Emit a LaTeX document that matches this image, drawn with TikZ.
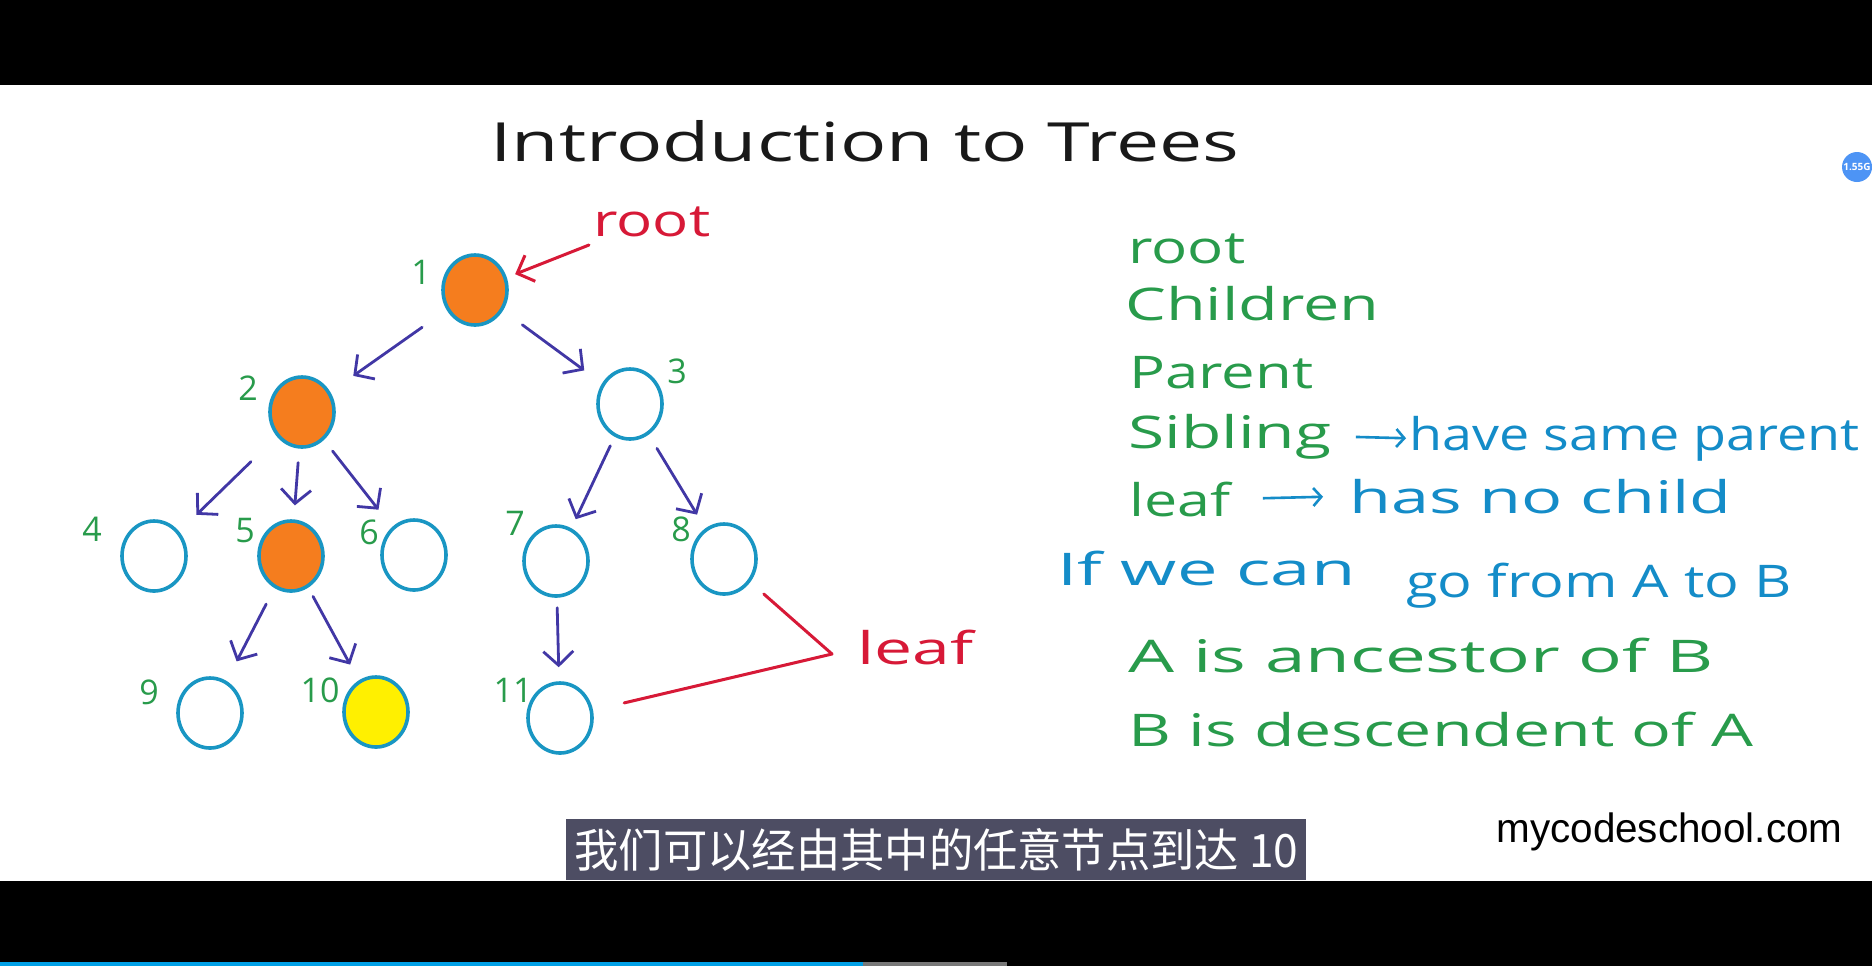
\documentclass[tikz,border=0pt]{standalone}
\usepackage{fontspec}
\usepackage{graphicx}
\setmainfont{Open Sans}
\newfontfamily\cjk{Noto Sans CJK SC}
\newfontfamily\libsans{Liberation Sans}
\usetikzlibrary{arrows.meta,shapes.geometric}
\definecolor{ring}{RGB}{25,150,195}
\definecolor{orangefill}{RGB}{245,125,30}
\definecolor{yellowfill}{RGB}{255,240,0}
\definecolor{arrowblue}{RGB}{65,55,165}
\definecolor{numgreen}{RGB}{40,155,75}
\definecolor{textblue}{RGB}{20,140,200}
\definecolor{redink}{RGB}{215,25,55}
\definecolor{subbg}{RGB}{62,62,86}
\definecolor{badgeblue}{RGB}{77,148,245}
\definecolor{barblue}{RGB}{0,160,230}
\definecolor{bargray}{RGB}{120,120,120}
\newcommand\fitto[2]{\resizebox{#1}{\height}{#2}}
\begin{document}
\begin{tikzpicture}[x=0.5pt,y=-0.5pt,
  tnode/.style={ellipse,draw=ring,line width=1.8pt,minimum width=32pt,minimum height=35pt,inner sep=0pt,fill=white},
  num/.style={text=numgreen,font=\fontsize{17}{20}\selectfont,inner sep=0pt},
  treearrow/.style={draw=arrowblue,line width=1.4pt,line cap=round,-{Straight Barb[length=7pt,width=15pt,line width=1.4pt]}},
  greentext/.style={anchor=base west,inner sep=0pt,text=numgreen,font=\fontsize{22.5}{27}\selectfont},
  bluetext/.style={anchor=base west,inner sep=0pt,text=textblue,font=\fontsize{22.5}{27}\selectfont},
  redtext/.style={anchor=base west,inner sep=0pt,text=redink,font=\fontsize{22.5}{27}\selectfont},
  textarrow/.style={draw=textblue,line width=1.3pt,-{Straight Barb[length=4pt,width=9pt,line width=1.3pt]}},
  redarrow/.style={draw=redink,line width=1.5pt,line cap=round,-{Straight Barb[length=7pt,width=14pt,line width=1.5pt]}},
  redline/.style={draw=redink,line width=1.5pt,line cap=round,line join=round}
]
\useasboundingbox (0,0) rectangle (1872,966);
\fill[white] (0,0) rectangle (1872,966);
\fill[black] (0,0) rectangle (1872,85);
\fill[black] (0,881) rectangle (1872,966);
\fill[barblue] (0,962) rectangle (863,966);
\fill[bargray] (863,962) rectangle (1007,966);

% title
\node[anchor=base west,inner sep=0pt,text=black!90,font=\fontsize{27}{32}\selectfont] (title) at (490,161) {\fitto{374.5pt}{Introduction to Trees}};

% badge
\node[circle,fill=badgeblue,minimum size=15pt,inner sep=0pt,text=white,font=\bfseries\fontsize{5}{6}\selectfont] (badge) at (1857,167) {1.55G};

% tree nodes
\node[tnode,fill=orangefill] (n1) at (475,290) {};
\node[tnode,fill=orangefill] (n2) at (302,412) {};
\node[tnode] (n3) at (630,404) {};
\node[tnode] (n4) at (154,556) {};
\node[tnode,fill=orangefill] (n5) at (291,556) {};
\node[tnode] (n6) at (414,555) {};
\node[tnode] (n7) at (556,561) {};
\node[tnode] (n8) at (724,559) {};
\node[tnode] (n9) at (210,713) {};
\node[tnode,fill=yellowfill] (n10) at (376,712) {};
\node[tnode] (n11) at (560,718) {};

% numbers
\node[num] (l1) at (421,272) {1};
\node[num] (l2) at (248,388) {2};
\node[num] (l3) at (677,371) {3};
\node[num] (l4) at (92,529) {4};
\node[num] (l5) at (245,531) {5};
\node[num] (l6) at (369,532) {6};
\node[num] (l7) at (515,523) {7};
\node[num] (l8) at (681,529) {8};
\node[num] (l9) at (149,692) {9};
\node[num] (l10) at (320,690) {10};
\node[num] (l11) at (513,690) {11};

% tree arrows
\draw[treearrow,shorten <=15pt,shorten >=14pt] (n1) -- (n2);
\draw[treearrow,shorten <=12pt,shorten >=11pt] (n1) -- (n3);
\draw[treearrow,shorten <=18pt,shorten >=12pt] (n2) -- (n4);
\draw[treearrow,shorten <=7pt,shorten >=7pt] (n2) -- (n5);
\draw[treearrow,shorten <=7pt,shorten >=11pt] (n2) -- (n6);
\draw[treearrow,shorten <=5pt,shorten >=5pt] (n3) -- (n7);
\draw[treearrow,shorten <=8pt,shorten >=8pt] (n3) -- (n8);
\draw[treearrow,shorten <=9pt,shorten >=11pt] (n5) -- (n9);
\draw[treearrow,shorten <=5pt,shorten >=9pt] (n5) -- (n10);
\draw[treearrow,shorten <=5pt,shorten >=7pt] (n7) -- (n11);

% root label
\node[redtext] (rootlbl) at (593,236) {\fitto{58.5pt}{root}};
\coordinate (rootfrom) at (589,245);
\draw[redarrow,shorten >=4.5pt] (rootfrom) -- (n1);

% leaf bracket
\node[redtext] (leaflbl) at (857,664) {\fitto{58pt}{leaf}};
\coordinate (leaftip) at (832,654);
\draw[redline,shorten <=9pt,shorten >=16pt] (n8) -- (leaftip) -- (n11);

% right side terms
\node[greentext] (troot) at (1128,263) {\fitto{58.5pt}{root}};
\node[greentext] (tchildren) at (1125,320) {\fitto{127pt}{Children}};
\node[greentext] (tparent) at (1129,388) {\fitto{92pt}{Parent}};
\node[greentext] (tsibling) at (1128,448) {\fitto{101.5pt}{Sibling}};
\node[bluetext] (thave) at (1409,450) {\fitto{225pt}{have same parent}};
\node[greentext] (tleaf) at (1129,516) {\fitto{50.5pt}{leaf}};
\node[bluetext] (thas) at (1349,513) {\fitto{191pt}{has no child}};
\draw[textarrow,shorten <=12pt,shorten >=1.5pt] (tsibling.east) -- (thave.west);
\draw[textarrow,shorten <=16pt,shorten >=13pt] (tleaf.east) -- (thas.west);
\node[bluetext] (tif) at (1057,585) {\fitto{149pt}{If we can}};
\node[bluetext] (tgo) at (1406,597) {\fitto{192.5pt}{go from A to B}};
\node[greentext] (tanc) at (1128,672) {\fitto{292.5pt}{A is ancestor of B}};
\node[greentext] (tdesc) at (1128,746) {\fitto{312.5pt}{B is descendent of A}};

% subtitle
\node[fill=subbg,fill opacity=0.92,text opacity=1,text=white,minimum width=370pt,minimum height=30.5pt,inner sep=0pt,anchor=north west,font=\cjk\fontsize{23}{28}\selectfont] (sub) at (566,819) {\fitto{362pt}{我们可以经由其中的任意节点到达 10}};

% brand
\node[anchor=base west,inner sep=0pt,text=black,font=\libsans\fontsize{20.5}{24}\selectfont] (brand) at (1496,842) {\fitto{173pt}{mycodeschool.com}};
\end{tikzpicture}
\end{document}
